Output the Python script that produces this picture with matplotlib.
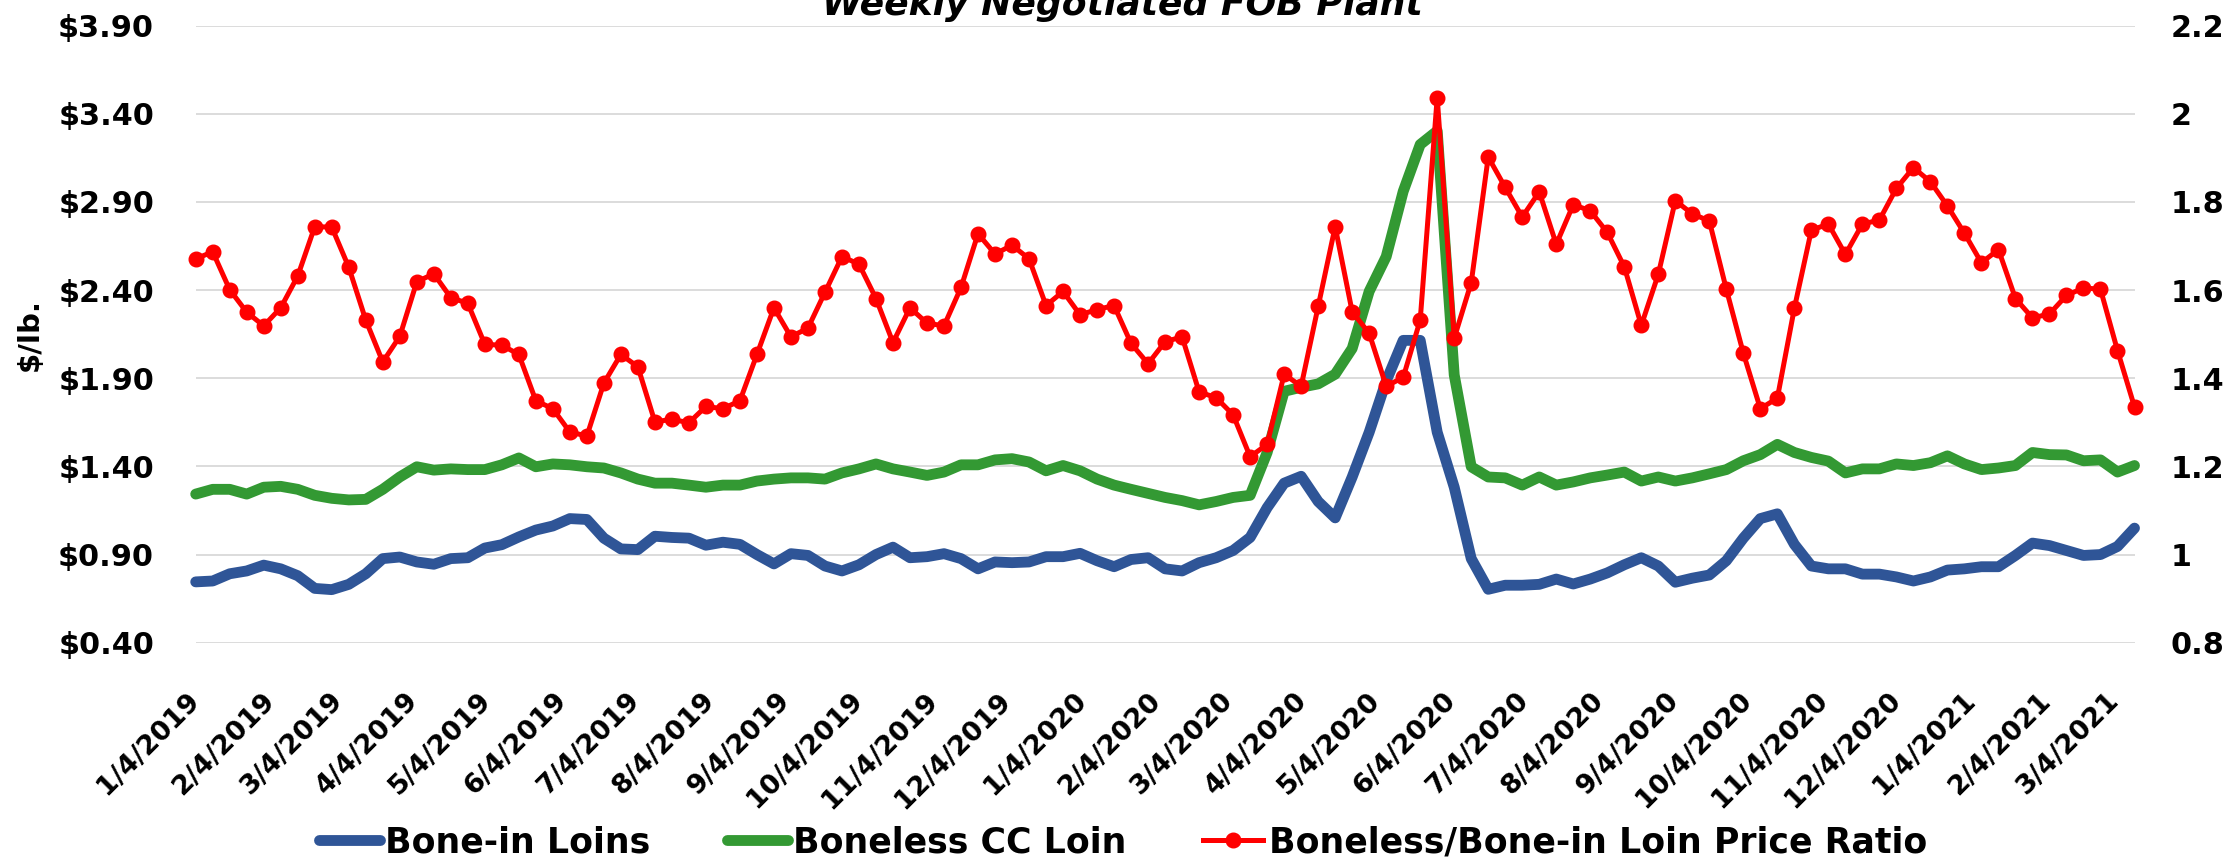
import matplotlib
matplotlib.use("Agg")
import matplotlib.pyplot as plt
import pandas as pd
from matplotlib.ticker import FuncFormatter
from matplotlib.lines import Line2D

plt.rcParams['font.family'] = ['DejaVu Sans']
plt.rcParams['font.weight'] = 'bold'

# ---------------- data ----------------
first_week = "2019-01-04"   # weekly observations, Fridays

bone_in = [0.745, 0.750, 0.791, 0.807, 0.840, 0.819, 0.780, 0.708, 0.701, 0.731,
           0.791, 0.877, 0.886, 0.858, 0.845, 0.877, 0.882, 0.937, 0.956, 1.000,
           1.039, 1.062, 1.104, 1.099, 0.993, 0.932, 0.928, 1.004, 0.997, 0.993,
           0.953, 0.970, 0.958, 0.900, 0.847, 0.905, 0.895, 0.835, 0.807, 0.842,
           0.900, 0.942, 0.882, 0.888, 0.905, 0.877, 0.819, 0.858, 0.854, 0.858,
           0.888, 0.888, 0.907, 0.865, 0.831, 0.872, 0.882, 0.819, 0.807, 0.854,
           0.882, 0.923, 0.997, 1.166, 1.305, 1.344, 1.201, 1.108, 1.340, 1.594,
           1.884, 2.115, 2.115, 1.594, 1.282, 0.877, 0.703, 0.726, 0.726, 0.731,
           0.761, 0.733, 0.761, 0.796, 0.842, 0.882, 0.835, 0.743, 0.766, 0.784,
           0.865, 0.993, 1.104, 1.131, 0.958, 0.835, 0.819, 0.819, 0.789, 0.789,
           0.773, 0.750, 0.773, 0.812, 0.819, 0.831, 0.831, 0.895, 0.965, 0.951,
           0.923, 0.895, 0.900, 0.946, 1.050]

boneless = [1.243, 1.270, 1.270, 1.243, 1.282, 1.287, 1.270, 1.236, 1.219, 1.210,
            1.213, 1.270, 1.340, 1.398, 1.379, 1.386, 1.382, 1.382, 1.409, 1.448,
            1.398, 1.414, 1.409, 1.398, 1.391, 1.363, 1.328, 1.305, 1.305, 1.294,
            1.282, 1.294, 1.294, 1.317, 1.328, 1.335, 1.335, 1.328, 1.363, 1.386,
            1.414, 1.386, 1.368, 1.349, 1.368, 1.409, 1.409, 1.437, 1.444, 1.425,
            1.375, 1.405, 1.375, 1.328, 1.294, 1.270, 1.247, 1.224, 1.206, 1.182,
            1.201, 1.224, 1.236, 1.479, 1.826, 1.849, 1.868, 1.923, 2.069, 2.393,
            2.590, 2.960, 3.226, 3.303, 1.919, 1.398, 1.340, 1.335, 1.294, 1.340,
            1.294, 1.312, 1.335, 1.351, 1.368, 1.317, 1.340, 1.317, 1.335, 1.358,
            1.382, 1.432, 1.467, 1.525, 1.479, 1.451, 1.430, 1.363, 1.386, 1.386,
            1.414, 1.405, 1.421, 1.460, 1.414, 1.382, 1.391, 1.405, 1.479, 1.467,
            1.465, 1.432, 1.437, 1.368, 1.405]

ratio = [1.671, 1.687, 1.601, 1.550, 1.519, 1.560, 1.632, 1.744, 1.743, 1.652,
         1.532, 1.437, 1.495, 1.619, 1.637, 1.583, 1.570, 1.477, 1.475, 1.454,
         1.349, 1.331, 1.278, 1.269, 1.389, 1.454, 1.426, 1.301, 1.307, 1.299,
         1.336, 1.331, 1.349, 1.454, 1.560, 1.494, 1.514, 1.595, 1.676, 1.659,
         1.581, 1.481, 1.560, 1.525, 1.519, 1.606, 1.728, 1.682, 1.702, 1.671,
         1.565, 1.597, 1.544, 1.556, 1.565, 1.479, 1.433, 1.483, 1.494, 1.369,
         1.356, 1.317, 1.222, 1.250, 1.409, 1.382, 1.563, 1.744, 1.551, 1.502,
         1.382, 1.402, 1.532, 2.037, 1.491, 1.617, 1.902, 1.833, 1.766, 1.823,
         1.704, 1.794, 1.780, 1.731, 1.653, 1.520, 1.636, 1.803, 1.773, 1.757,
         1.602, 1.457, 1.331, 1.355, 1.559, 1.736, 1.750, 1.681, 1.750, 1.759,
         1.831, 1.878, 1.846, 1.791, 1.729, 1.662, 1.692, 1.581, 1.537, 1.546,
         1.588, 1.605, 1.602, 1.463, 1.335]

x_tick_labels = ["1/4/2019", "2/4/2019", "3/4/2019", "4/4/2019", "5/4/2019",
                 "6/4/2019", "7/4/2019", "8/4/2019", "9/4/2019", "10/4/2019",
                 "11/4/2019", "12/4/2019", "1/4/2020", "2/4/2020", "3/4/2020",
                 "4/4/2020", "5/4/2020", "6/4/2020", "7/4/2020", "8/4/2020",
                 "9/4/2020", "10/4/2020", "11/4/2020", "12/4/2020", "1/4/2021",
                 "2/4/2021", "3/4/2021"]

left_ticks = [0.40, 0.90, 1.40, 1.90, 2.40, 2.90, 3.40, 3.90]
right_ticks = [0.8, 1.0, 1.2, 1.4, 1.6, 1.8, 2.0, 2.2]
right_tick_labels = ["0.8", "1", "1.2", "1.4", "1.6", "1.8", "2", "2.2"]

series_names = ["Bone-in Loins", "Boneless CC Loin",
                "Boneless/Bone-in Loin Price Ratio"]
title_text = "Weekly Negotiated FOB Plant"
y_label = "$/lb."

# ---------------- figure ----------------
W, H = 2238, 863
fig = plt.figure(figsize=(W / 100, H / 100), dpi=100)
ax = fig.add_axes([195.7 / W, 1 - 642.7 / H, (2134.5 - 195.7) / W, 617.0 / H])

dates = pd.date_range(first_week, periods=len(bone_in), freq="7D")
tick_dates = pd.to_datetime(x_tick_labels, format="%m/%d/%Y")

BLUE = "#2F5597"
GREEN = "#339933"
RED = "#FF0000"

ax.plot(dates, bone_in, color=BLUE, lw=7.8, solid_joinstyle="round",
        solid_capstyle="round", clip_on=False, zorder=3)
ax.plot(dates, boneless, color=GREEN, lw=7.8, solid_joinstyle="round",
        solid_capstyle="round", clip_on=False, zorder=3)

ax.set_xlim(dates[0], dates[-1])
ax.set_ylim(left_ticks[0], left_ticks[-1])
ax.set_yticks(left_ticks)
ax.yaxis.set_major_formatter(FuncFormatter(lambda v, p: f"${v:.2f}"))
ax.grid(axis="y", color="#D9D9D9", lw=1.3)
ax.set_axisbelow(True)
for s in ax.spines.values():
    s.set_visible(False)

ax.set_xticks(tick_dates)
ax.set_xticklabels(x_tick_labels, rotation=45, ha="right", va="center",
                   rotation_mode="anchor", fontsize=19.5, fontweight="bold")
ax.tick_params(axis="x", length=0, pad=39)
ax.tick_params(axis="y", length=0, pad=30, labelsize=21.8)
for t in ax.get_yticklabels():
    t.set_fontweight("bold")

ax.set_ylabel(y_label, fontsize=21, fontweight="bold")
ax.yaxis.set_label_coords(-0.0786, 0.5)

ax2 = ax.twinx()
ax2.plot(dates, ratio, color=RED, lw=3.6, marker="o", ms=10.5,
         markeredgecolor=RED, markerfacecolor=RED, clip_on=False, zorder=4)
ax2.set_ylim(right_ticks[0], right_ticks[-1])
ax2.set_yticks(right_ticks)
ax2.set_yticklabels(right_tick_labels, fontsize=21.8, fontweight="bold")
ax2.tick_params(axis="y", length=0, pad=26)
ax2.set_xlim(dates[0], dates[-1])
for s in ax2.spines.values():
    s.set_visible(False)

# title (top is cropped in the reference)
fig.text(1122 / W, 1 - 15 / H, title_text, ha="center", va="baseline",
         fontsize=26, fontweight="bold", fontstyle="italic")

handles = [
    Line2D([], [], color=BLUE, lw=7.8, solid_capstyle="round"),
    Line2D([], [], color=GREEN, lw=7.8, solid_capstyle="round"),
    Line2D([], [], color=RED, lw=3.6, marker="o", ms=10.5),
]
fig.legend(handles, series_names, loc="center", bbox_to_anchor=(1123 / W, 21 / H),
           ncol=3, frameon=False, prop={"size": 25, "weight": "bold"},
           handlelength=1.75, handletextpad=0.15, columnspacing=2.2,
           borderaxespad=0, borderpad=0, numpoints=1)

fig.savefig("out.png", dpi=100)
